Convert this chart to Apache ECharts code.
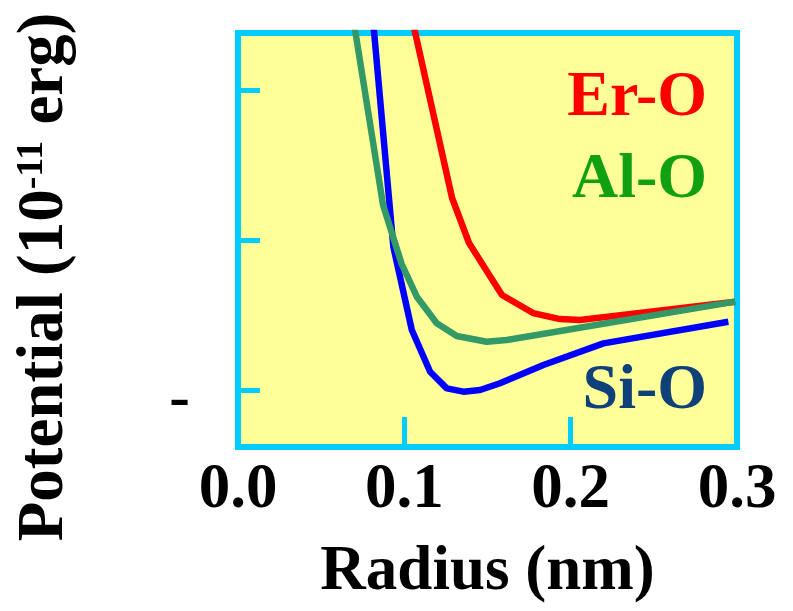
<!DOCTYPE html>
<html>
<head>
<meta charset="utf-8">
<script src="https://cdn.jsdelivr.net/npm/echarts@6/dist/echarts.min.js"></script>
<style>
html,body{margin:0;padding:0;background:#fff;}
#chart{width:793px;height:611px;}
</style>
</head>
<body>
<div id="chart"></div>
<script>
// ---- data ----
const xTickValues = [0, 0.1, 0.2, 0.3];
const yTickValues = [-1, 0, 1];
const yLabelValues = [-1];

const radiusErO = [0.100, 0.1287, 0.1389, 0.1503, 0.1587, 0.1774, 0.1936, 0.2056, 0.2989];
const potentialErO = [1.707, 0.28, -0.02, -0.22, -0.367, -0.487, -0.527, -0.533, -0.411];

const radiusSiO = [0.080, 0.0934, 0.1045, 0.1155, 0.1255, 0.1355, 0.1455, 0.1575, 0.1836, 0.2197, 0.2948];
const potentialSiO = [1.61, -0.045, -0.60, -0.878, -0.989, -1.011, -1.0, -0.955, -0.833, -0.689, -0.545];

const radiusAlO = [0.070, 0.0872, 0.0984, 0.1075, 0.1195, 0.1315, 0.1495, 0.1616, 0.2989];
const potentialAlO = [1.427, 0.233, -0.16, -0.378, -0.555, -0.64, -0.678, -0.667, -0.411];

const seriesNames = ['Er-O', 'Si-O', 'Al-O'];

function pairs(xs, ys) { return xs.map((x, i) => [x, ys[i]]); }

const FONT = "'Liberation Serif', 'Times New Roman', serif";
const CYAN = '#00ccff';

const chart = echarts.init(document.getElementById('chart'), null, {renderer: 'canvas'});
chart.setOption({
  animation: false,
  grid: {
    left: 238, right: 56, top: 33, bottom: 164,
    show: true, backgroundColor: '#ffff99', borderColor: CYAN, borderWidth: 6
  },
  xAxis: {
    type: 'value', min: 0, max: 0.3, interval: 0.1,
    name: 'Radius (nm)', nameLocation: 'middle', nameGap: 94,
    nameTextStyle: {fontFamily: FONT, fontWeight: 'bold', fontSize: 63, color: '#000'},
    axisLine: {show: false, onZero: false},
    splitLine: {show: false},
    axisTick: {show: true, inside: true, length: 30, customValues: [0.1, 0.2],
      lineStyle: {color: CYAN, width: 5}},
    axisLabel: {show: true, customValues: xTickValues, margin: 12, showMinLabel: true, showMaxLabel: true,
      formatter: v => v.toFixed(1),
      fontFamily: FONT, fontWeight: 'bold', fontSize: 63, color: '#000'}
  },
  yAxis: {
    type: 'value', min: -1.38, max: 1.38,
    name: '{a|Potential (10}{s|-11}{a| erg)}', nameLocation: 'middle', nameGap: 160,
    nameTextStyle: {
      padding: [0, 74, 0, 0],
      rich: {
        a: {fontFamily: FONT, fontWeight: 'bold', fontSize: 65, color: '#000'},
        s: {fontFamily: FONT, fontWeight: 'bold', fontSize: 38, color: '#000', verticalAlign: 'top', padding: [0, 0, 24, 0]}
      }
    },
    axisLine: {show: false, onZero: false},
    splitLine: {show: false},
    axisTick: {show: true, inside: true, length: 22, customValues: yTickValues,
      lineStyle: {color: CYAN, width: 5}},
    axisLabel: {show: true, customValues: yLabelValues, margin: 48,
      formatter: () => '{m|-}',
      rich: {m: {fontFamily: FONT, fontWeight: 'bold', fontSize: 62, color: '#000', padding: [22, 0, 0, 0]}}}
  },
  series: [
    {name: seriesNames[0], type: 'line', data: pairs(radiusErO, potentialErO), symbol: 'none',
      lineStyle: {color: '#ff0000', width: 6.5}, z: 3},
    {name: seriesNames[1], type: 'line', data: pairs(radiusSiO, potentialSiO), symbol: 'none',
      lineStyle: {color: '#0000ff', width: 6.5}, z: 4},
    {name: seriesNames[2], type: 'line', data: pairs(radiusAlO, potentialAlO), symbol: 'none',
      lineStyle: {color: '#339966', width: 6.5}, z: 5}
  ],
  graphic: [
    {type: 'text', right: 86, top: 66, z: 10, style: {text: 'Er-O', fill: '#ff0000', font: "bold 64px 'Liberation Serif', serif"}},
    {type: 'text', right: 86, top: 148, z: 10, style: {text: 'Al-O', fill: '#11a011', font: "bold 64px 'Liberation Serif', serif"}},
    {type: 'text', right: 86, top: 359, z: 10, style: {text: 'Si-O', fill: '#10407a', font: "bold 64px 'Liberation Serif', serif"}}
  ]
});
</script>
</body>
</html>
